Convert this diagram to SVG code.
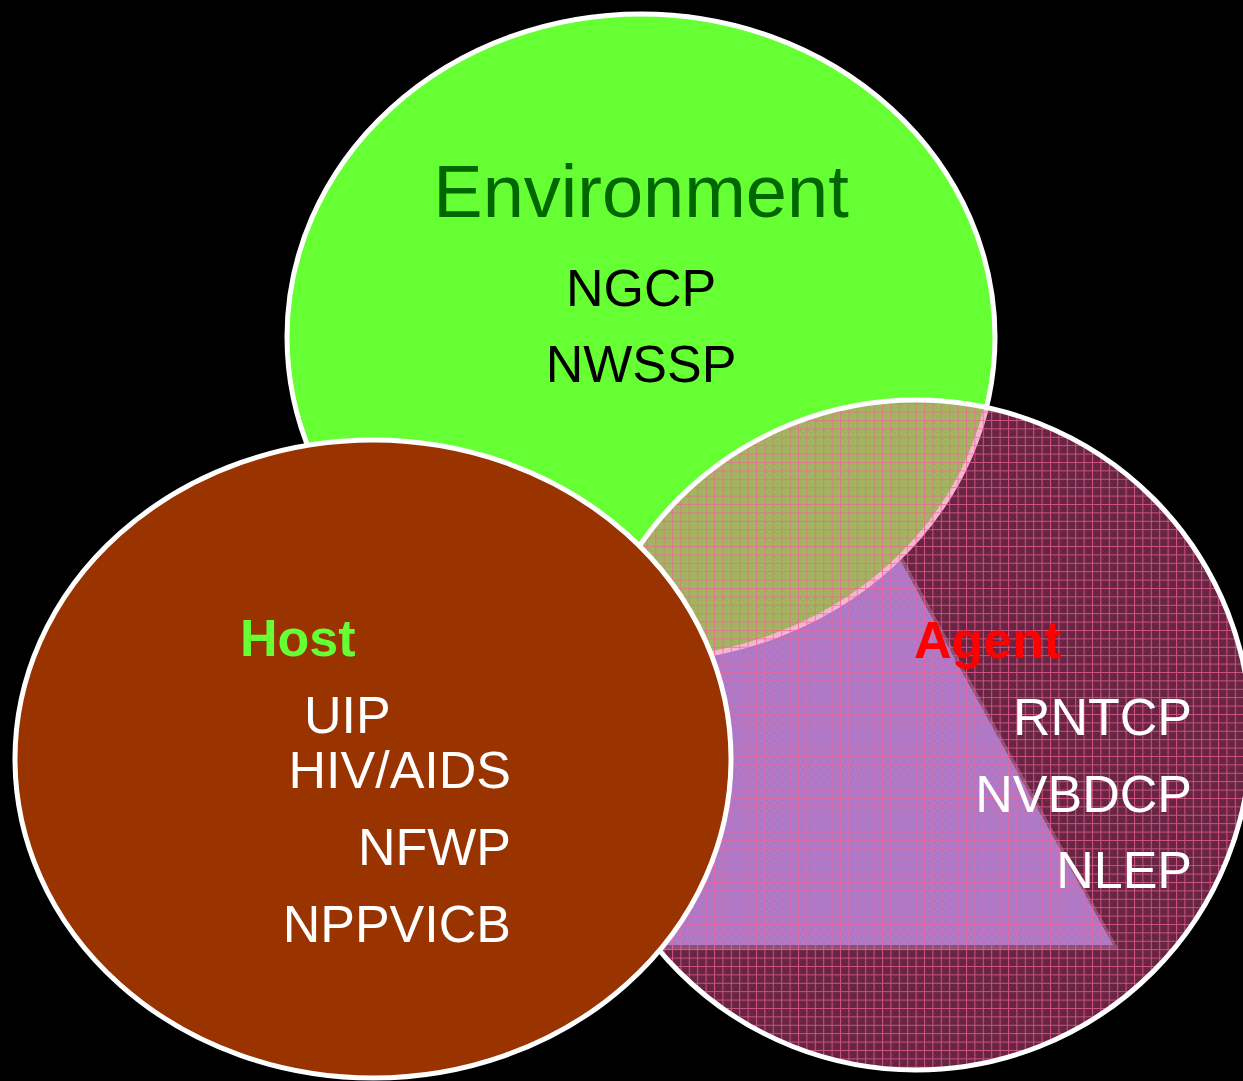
<svg xmlns="http://www.w3.org/2000/svg" width="1243" height="1081" viewBox="0 0 1243 1081">
<style>
.shape{stroke:#ffffff;stroke-width:5}
.t{font-family:"Liberation Sans",Arial,sans-serif;font-size:52px}
.b{font-weight:bold}
.w{fill:#ffffff}
</style>
<defs>
<pattern id="grid" width="8.4" height="8.4" patternUnits="userSpaceOnUse">
<rect width="8.4" height="8.4" fill="rgb(244,84,156)" fill-opacity="0.43"/>
<rect x="2" y="2" width="1" height="1" fill="#000" fill-opacity="0.12"/>
<rect x="4" y="4" width="1" height="1" fill="#000" fill-opacity="0.12"/>
<rect x="2" y="4" width="1" height="1" fill="#fff" fill-opacity="0.06"/>
<rect x="4" y="2" width="1" height="1" fill="#fff" fill-opacity="0.06"/>
<path d="M0 0.5H8.4M0.5 0V8.4" stroke="#f06496" stroke-width="1" stroke-opacity="0.75"/>
</pattern>
</defs>
<rect width="1243" height="1081" fill="#000000"/>
<g id="agent-triangle">
<polygon points="786,346 1119,950 453,950" fill="#9090b0" fill-opacity="0.5"/>
<polygon points="780,343 1113,945 447,945" fill="#7896eb"/>
</g>
<g id="node-environment">
<ellipse class="shape" cx="641" cy="337" rx="354" ry="323" fill="#66ff33"/>
<text class="t" x="641" y="217" text-anchor="middle" fill="#006600" style="font-size:74px">Environment</text>
<text class="t" x="641" y="306" text-anchor="middle" fill="#000000">NGCP</text>
<text class="t" x="641" y="382" text-anchor="middle" fill="#000000">NWSSP</text>
</g>
<g id="node-agent">
<circle class="shape" cx="916" cy="735" r="335" fill="url(#grid)"/>
<text class="t b" x="914" y="658" fill="#ff0000">Agent</text>
<text class="t w" x="1192" y="735" text-anchor="end">RNTCP</text>
<text class="t w" x="1192" y="812" text-anchor="end">NVBDCP</text>
<text class="t w" x="1192" y="888" text-anchor="end">NLEP</text>
</g>
<g id="node-host">
<ellipse class="shape" cx="373" cy="759" rx="358" ry="319" fill="#993300"/>
<text class="t b" x="240" y="656" fill="#66ff33">Host</text>
<text class="t w" x="304" y="733">UIP</text>
<text class="t w" x="511" y="788" text-anchor="end">HIV/AIDS</text>
<text class="t w" x="511" y="865" text-anchor="end">NFWP</text>
<text class="t w" x="511" y="942" text-anchor="end">NPPVICB</text>
</g>
<g id="connectors"/>
</svg>
